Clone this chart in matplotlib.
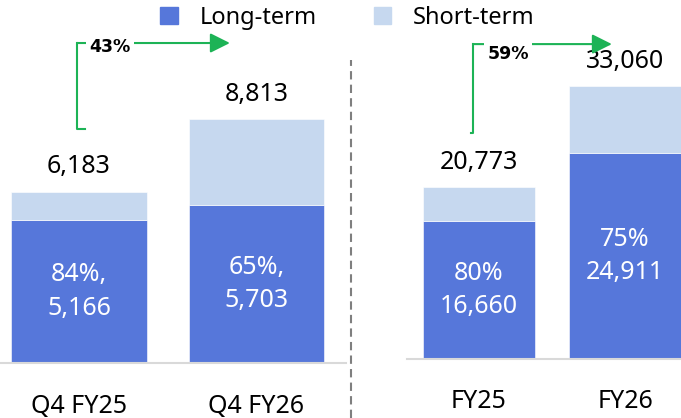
import matplotlib
matplotlib.use("Agg")
import matplotlib.pyplot as plt
from matplotlib.lines import Line2D
from matplotlib.patches import Patch

plt.rcParams["font.family"] = ["Noto Sans", "DejaVu Sans"]

# data
quarter_labels = ["Q4 FY25", "Q4 FY26"]
quarter_total = [6183, 8813]
quarter_long = [5166, 5703]

year_labels = ["FY25", "FY26"]
year_total = [20773, 33060]
year_long = [16660, 24911]

LONG_COLOR = "#5677DA"
SHORT_COLOR = "#C6D8EF"
GREEN = "#1DB356"
W, H = 681, 418


def draw_panel(ax, labels, total, long_term, sep):
    x = range(len(labels))
    short = [t - l for t, l in zip(total, long_term)]
    ax.bar(x, long_term, width=0.766, color=LONG_COLOR, edgecolor="white", linewidth=0.4)
    ax.bar(x, short, bottom=long_term, width=0.766, color=SHORT_COLOR,
           edgecolor="white", linewidth=0.4)
    for i, (t, l) in enumerate(zip(total, long_term)):
        ax.annotate(f"{t:,}", (i, t), xytext=(0, 9), textcoords="offset points",
                    ha="center", va="bottom", fontsize=18)
        ax.text(i, l / 2, f"{round(100 * l / t)}%{sep}\n{l:,}", ha="center",
                va="center", color="white", fontsize=18, linespacing=1.45)
    ax.axhline(0, color="#D9D9D9", lw=1.5, clip_on=False)
    ax.set_xticks(list(x), labels, fontsize=18)
    ax.tick_params(axis="x", length=0, pad=22)
    ax.set_yticks([])
    for s in ax.spines.values():
        s.set_visible(False)


def draw_growth(ax, total, x_vert, x_tip, y_low, y_top, tick, label_x, label_y):
    tr = ax.get_xaxis_transform()
    ax.plot([x_vert + tick, x_vert, x_vert], [y_low, y_low, y_top], color=GREEN,
            lw=1.5, transform=tr, clip_on=False)
    ax.annotate("", xy=(x_tip, y_top), xytext=(x_vert, y_top), xycoords=tr,
                textcoords=tr,
                arrowprops=dict(arrowstyle="-|>,head_length=0.6,head_width=0.3",
                                mutation_scale=20, color=GREEN, lw=1.5,
                                shrinkA=0, shrinkB=0))
    growth = round(100 * (total[1] / total[0] - 1))
    ax.text(label_x, label_y, f"{growth}%", transform=tr, ha="center", va="center",
            fontsize=12.5, fontweight="bold", family=["DejaVu Sans"],
            bbox=dict(facecolor="white", edgecolor="none", pad=2.5))


fig = plt.figure(figsize=(W / 100, H / 100), dpi=100)

ax1 = fig.add_axes([0, (H - 363) / H, 346 / W, 363 / H])
ax1.set_xlim(-79 / 177.5, (346 - 79) / 177.5)
ax1.set_ylim(0, 363 / 0.02766)
draw_panel(ax1, quarter_labels, quarter_total, quarter_long, ",")
draw_growth(ax1, quarter_total, -0.011, 0.85, 0.645, 0.8815, 0.045, 0.175, 0.870)

ax2 = fig.add_axes([407 / W, (H - 358.5) / H, 274 / W, 358.5 / H])
ax2.set_xlim((407 - 479) / 146, (681 - 479) / 146)
ax2.set_ylim(0, 358.5 / 0.008232)
draw_panel(ax2, year_labels, year_total, year_long, "")
draw_growth(ax2, year_total, -0.04, 0.91, 0.63, 0.877, -0.015, 0.2, 0.85)

fig.add_artist(Line2D([351 / W, 351 / W], [0, 1 - 60 / H], transform=fig.transFigure,
                      color="#7F7F7F", lw=1.5, ls=(0, (4, 2.5))))

handles = [Patch(color=LONG_COLOR, label="Long-term"),
           Patch(color=SHORT_COLOR, label="Short-term")]
fig.legend(handles=handles, loc="center", bbox_to_anchor=(347.5 / W, 1 - 18 / H),
           ncol=2, frameon=False, fontsize=17, handlelength=0.75, handleheight=0.75,
           handletextpad=0.93, columnspacing=2.4, borderpad=0)

fig.savefig("out.png", dpi=100)
